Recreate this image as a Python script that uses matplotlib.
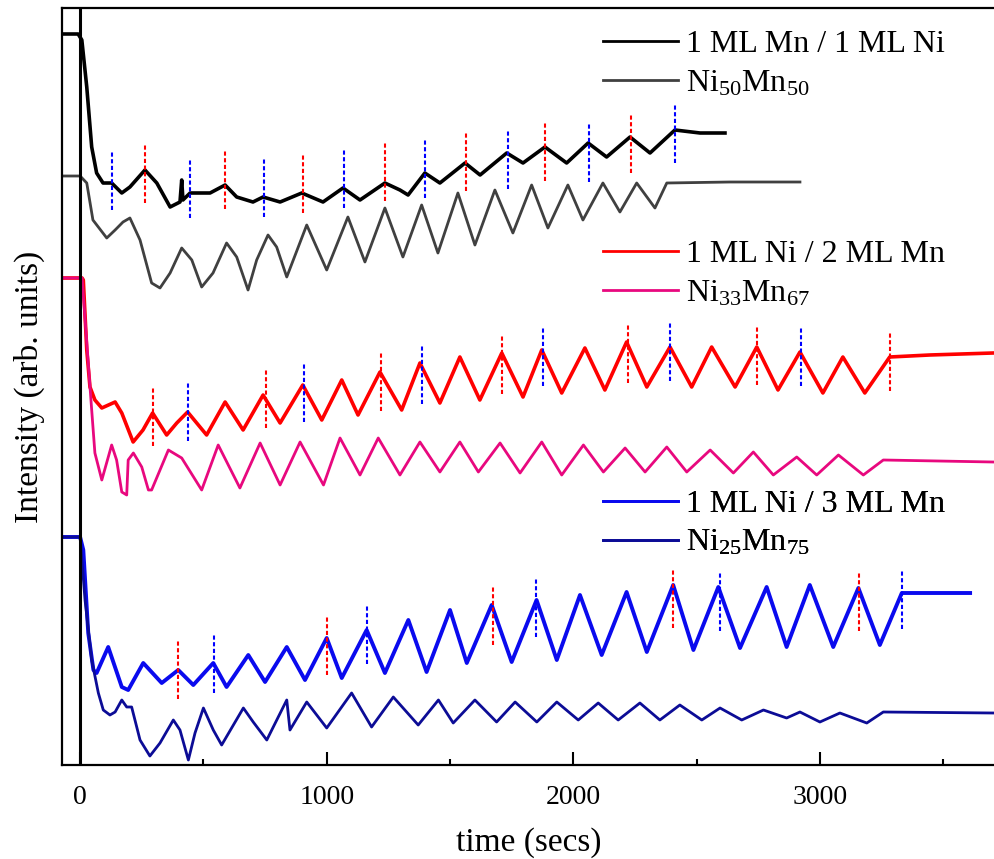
import matplotlib
matplotlib.use("Agg")
import matplotlib.pyplot as plt
from matplotlib.lines import Line2D

plt.rcParams['font.family'] = ['Liberation Serif', 'DejaVu Serif']
plt.rcParams['mathtext.default'] = 'regular'

# ---------------- data (time in s, intensity in arb. units) ----------------
t_mn1ni1 = [-69, -8, 7, 27, 47, 67, 93, 128, 169, 202, 263, 311, 365, 405, 412, 417, 446, 527, 588, 635,
            701, 742, 811, 899, 985, 1066, 1135, 1236, 1297, 1330, 1398, 1459, 1561, 1622, 1730, 1796,
            1885, 1973, 2060, 2135, 2230, 2311, 2412, 2514, 2615]
i_mn1ni1 = [731, 731, 725, 678, 618, 592, 582, 582, 572, 578, 595, 582, 558, 563, 585, 565, 572, 572, 580, 568,
            563, 568, 563, 572, 563, 577, 565, 582, 575, 570, 592, 582, 602, 590, 612, 602,
            618, 602, 622, 608, 628, 612, 635, 632, 632]

t_ni50 = [-69, 0, 27, 52, 108, 142, 174, 202, 243, 290, 324, 365, 412, 453, 493, 539, 594, 635, 681, 716,
          762, 797, 838, 919, 1000, 1086, 1155, 1236, 1309, 1385, 1451, 1532, 1601, 1682, 1755, 1831,
          1897, 1978, 2039, 2120, 2189, 2257, 2331, 2379, 2635, 2919]
i_ni50 = [589, 589, 582, 545, 527, 535, 543, 547, 525, 482, 477, 492, 517, 505, 478, 492, 522, 508, 475, 505,
          530, 518, 488, 540, 495, 548, 503, 557, 508, 560, 512, 572, 520, 575, 532, 580,
          537, 580, 545, 582, 553, 582, 557, 582, 583, 583]

t_ni1mn2 = [-73, 8, 13, 27, 40, 60, 88, 142, 169, 215, 255, 294, 351, 392, 436, 513, 588, 661, 742, 811,
            903, 980, 1061, 1127, 1216, 1304, 1378, 1459, 1540, 1621, 1710, 1796, 1872, 1953, 2047, 2128,
            2216, 2298, 2392, 2480, 2561, 2656, 2744, 2830, 2919, 3012, 3093, 3182, 3283, 3445, 3702]
i_ni1mn2 = [487, 487, 485, 415, 378, 365, 357, 363, 352, 323, 335, 352, 330, 342, 353, 330, 363, 335, 370, 342,
            380, 345, 385, 350, 393, 355, 402, 362, 408, 365, 412, 368, 415, 372, 417, 375,
            423, 378, 418, 378, 418, 378, 418, 375, 413, 372, 408, 372, 408, 410, 412]

t_ni33 = [-73, 8, 47, 60, 88, 128, 148, 169, 189, 195, 216, 250, 277, 290, 358, 412, 493, 560, 648, 730,
          811, 892, 987, 1054, 1135, 1209, 1297, 1378, 1459, 1540, 1615, 1703, 1784, 1872, 1953, 2041,
          2122, 2210, 2291, 2379, 2460, 2555, 2649, 2730, 2811, 2906, 2987, 3075, 3176, 3257, 3702]
i_ni33 = [487, 487, 355, 312, 285, 320, 305, 273, 270, 305, 312, 298, 275, 275, 315, 307, 275, 320, 277, 322,
          280, 323, 280, 327, 290, 327, 290, 323, 293, 323, 293, 322, 292, 323, 290, 320,
          293, 317, 293, 318, 293, 315, 292, 313, 290, 308, 290, 310, 290, 305, 303]

t_ni1mn3 = [-73, 0, 13, 33, 54, 67, 114, 169, 195, 256, 331, 398, 459, 540, 594, 682, 750, 838, 912, 1000,
            1061, 1162, 1236, 1331, 1405, 1500, 1568, 1669, 1750, 1851, 1933, 2027, 2115, 2216, 2298,
            2405, 2487, 2588, 2676, 2784, 2865, 2959, 3054, 3156, 3243, 3332, 3467, 3609]
i_ni1mn3 = [228, 228, 215, 132, 95, 92, 118, 78, 75, 102, 82, 95, 80, 102, 78, 110, 83, 118, 85, 127,
            87, 135, 92, 145, 93, 155, 102, 160, 103, 165, 105, 170, 110, 173, 113,
            180, 115, 178, 117, 178, 118, 180, 118, 177, 120, 172, 172, 172]

t_ni25 = [-73, 0, 20, 47, 74, 94, 121, 142, 169, 189, 209, 243, 283, 324, 378, 405, 439, 466, 500, 540,
          574, 662, 702, 757, 838, 851, 919, 1000, 1101, 1182, 1270, 1371, 1453, 1513, 1601, 1689,
          1764, 1852, 1933, 2020, 2101, 2182, 2270, 2351, 2432, 2521, 2595, 2683, 2771, 2865, 2919,
          3000, 3081, 3190, 3257, 3702]
i_ni25 = [228, 228, 165, 105, 72, 55, 50, 53, 65, 58, 58, 25, 9, 22, 45, 35, 5, 32, 57, 35,
          20, 57, 43, 25, 65, 35, 63, 37, 72, 38, 68, 40, 65, 42, 65, 43,
          63, 43, 63, 45, 62, 45, 62, 45, 60, 45, 57, 45, 55, 47, 53,
          43, 52, 42, 53, 52]

# dashed markers: time, centre intensity, colour
mk1_t = [128, 263, 446, 588, 746, 904, 1070, 1236, 1398, 1565, 1735, 1885, 2063, 2234, 2412]
mk1_i = [585, 592, 577, 586, 578, 582, 587, 594, 597, 604, 606, 614, 613, 622, 632]
mk1_c = ['b', 'r', 'b', 'r', 'b', 'r', 'b', 'r', 'b', 'r', 'b', 'r', 'b', 'r', 'b']

mk2_t = [294, 437, 754, 908, 1220, 1386, 1711, 1877, 2222, 2392, 2744, 2922, 3283]
mk2_i = [349, 354, 367, 373, 384, 391, 401, 409, 412, 414, 410, 409, 404]
mk2_c = ['r', 'b', 'r', 'b', 'r', 'b', 'r', 'b', 'r', 'b', 'r', 'b', 'r']

mk3_t = [399, 542, 1001, 1163, 1674, 1849, 2405, 2595, 3159, 3333]
mk3_i = [96, 102, 120, 131, 150, 158, 167, 164, 164, 166]
mk3_c = ['r', 'b', 'r', 'b', 'r', 'b', 'r', 'b', 'r', 'b']

labels = ['1 ML Mn / 1 ML Ni', 'Ni$_{50}$Mn$_{50}$',
          '1 ML Ni / 2 ML Mn', 'Ni$_{33}$Mn$_{67}$',
          '1 ML Ni / 3 ML Mn', 'Ni$_{25}$Mn$_{75}$']
colors = ['#000000', '#404040', '#ff0000', '#e8087e', '#0a0aee', '#0c0c96']
widths = [2.6, 2.0, 2.6, 2.0, 2.8, 2.0]

# ---------------- figure ----------------
W, H = 994, 859
fig = plt.figure(figsize=(W / 100, H / 100), dpi=100)
ax = fig.add_axes([62 / W, 94 / H, 934 / W, 757 / H])

series = [(t_mn1ni1, i_mn1ni1), (t_ni50, i_ni50), (t_ni1mn2, i_ni1mn2),
          (t_ni33, i_ni33), (t_ni1mn3, i_ni1mn3), (t_ni25, i_ni25)]
order = [1, 0, 3, 2, 5, 4]
for k in order:
    t, v = series[k]
    ax.plot(t, v, color=colors[k], lw=widths[k], solid_joinstyle='round', zorder=2 + k * 0.1)

cmap = {'r': '#ff0000', 'b': '#0000ff'}
half = 30
for ts, vs, cs in [(mk1_t, mk1_i, mk1_c), (mk2_t, mk2_i, mk2_c), (mk3_t, mk3_i, mk3_c)]:
    for t, v, c in zip(ts, vs, cs):
        ax.plot([t, t], [v - half, v + half], color=cmap[c], lw=1.5,
                linestyle=(0, (2, 1.2)), zorder=4)

ax.axvline(0, color='black', lw=2.2, zorder=5)

ax.set_xlim(-73.4, 3714)
ax.set_ylim(0, 757)
ax.set_xticks([0, 1000, 2000, 3000])
ax.set_xticks([500, 1500, 2500, 3500], minor=True)
ax.set_yticks([])
ax.tick_params(axis='x', which='major', direction='in', length=9.5, width=1.5,
               labelsize=20, pad=14.5)
ax.tick_params(axis='x', which='minor', direction='in', length=4.5, width=1.5)
for s in ax.spines.values():
    s.set_linewidth(1.6)

ax.set_xlabel('time (secs)', fontsize=24, labelpad=12)
ax.set_ylabel('Intensity (arb. units)', fontsize=24, labelpad=12)

legpos = [0.971, 0.694, 0.364]
for g in range(3):
    hs = [Line2D([], [], color=colors[2 * g + j], lw=2.0) for j in range(2)]
    leg = ax.legend(hs, labels[2 * g:2 * g + 2], loc='upper left',
                    bbox_to_anchor=(0.579, legpos[g]), frameon=False, fontsize=23,
                    handlelength=2.35, handletextpad=0.25, labelspacing=0.3,
                    borderpad=0, borderaxespad=0)
    ax.add_artist(leg)

fig.savefig('out.png', dpi=100)
